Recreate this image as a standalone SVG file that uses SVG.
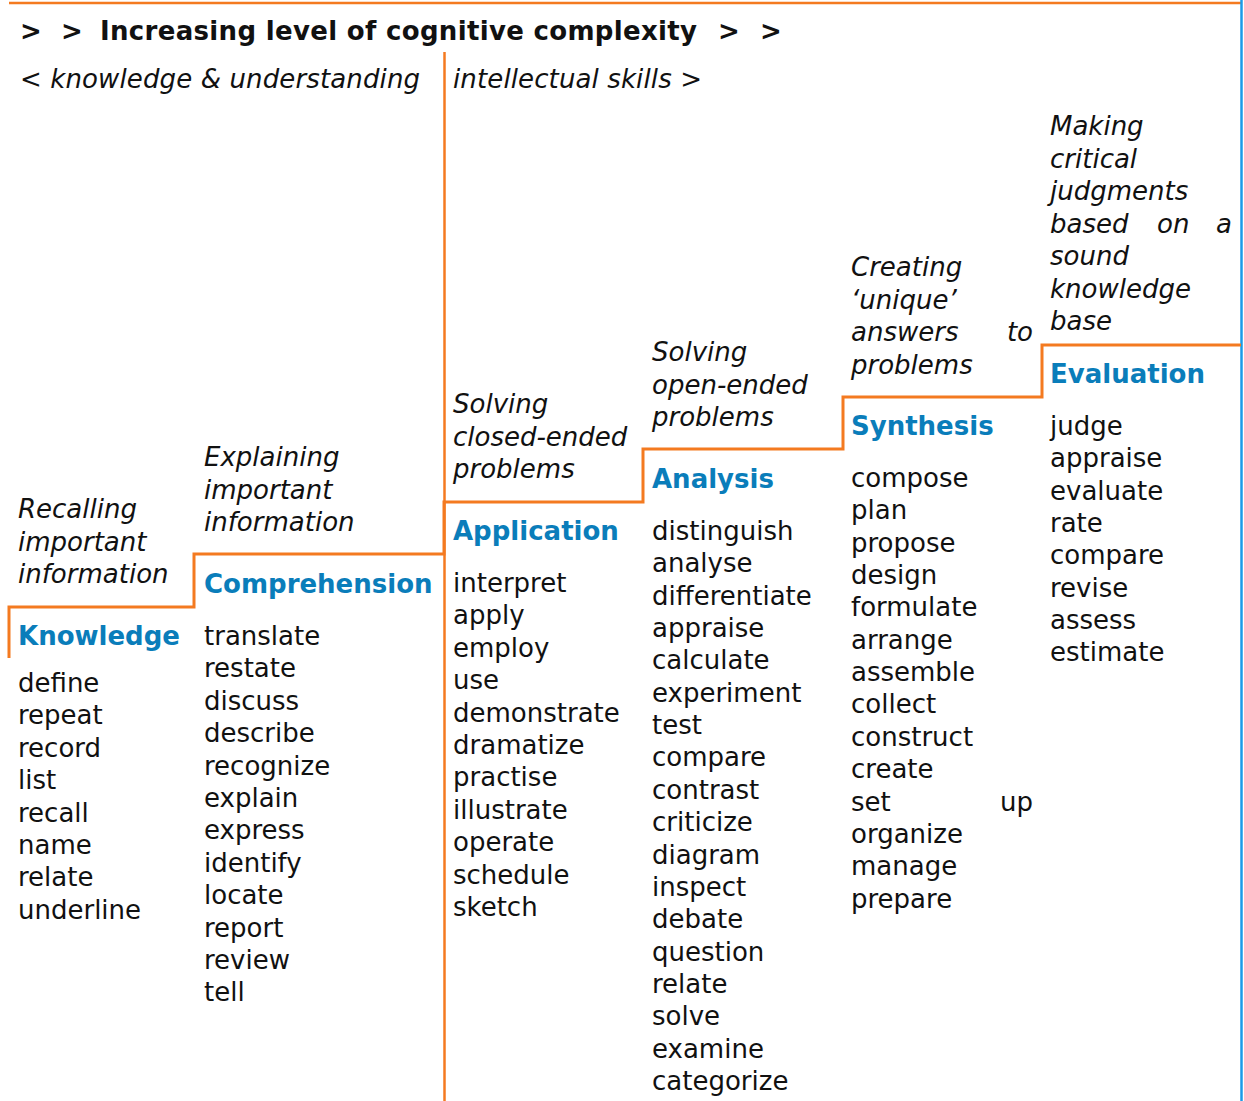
<svg xmlns="http://www.w3.org/2000/svg" width="1244" height="1101" viewBox="0 0 1244 1101">
<style>
text{font-family:"DejaVu Sans","Liberation Sans",sans-serif;font-size:26px;fill:#111}
.i{font-style:italic}
.b{font-weight:bold}
.h{font-weight:bold;fill:#0A7DBA}
.o{fill:none;stroke:#F47A20;stroke-width:3}
</style>
<rect width="1244" height="1101" fill="#fff"/>
<g id="frame">
<line x1="9" y1="3" x2="1241" y2="3" stroke="#F47A20" stroke-width="2.5"/>
<line x1="1241.5" y1="0" x2="1241.5" y2="1101" stroke="#1A9BE8" stroke-width="2.5"/>
<line x1="444.5" y1="52" x2="444.5" y2="1101" stroke="#F47A20" stroke-width="2.5"/>
<path class="o" d="M9,658 V607 H194 V554 H444 V502 H643 V449 H843 V397 H1042 V345 H1241"/>
</g>
<g id="title">
<text class="b" x="20" y="40">&gt;</text>
<text class="b" x="61" y="40">&gt;</text>
<text class="b" x="100" y="40" textLength="597" lengthAdjust="spacing">Increasing level of cognitive complexity</text>
<text class="b" x="718" y="40">&gt;</text>
<text class="b" x="760" y="40">&gt;</text>
<text class="i" x="20" y="88" textLength="400" lengthAdjust="spacing">&lt; knowledge &amp; understanding</text>
<text class="i" x="453" y="88" textLength="249" lengthAdjust="spacing">intellectual skills &gt;</text>
</g>
<g id="knowledge">
<text class="i" x="18" y="518">Recalling</text>
<text class="i" x="18" y="550.5">important</text>
<text class="i" x="18" y="583">information</text>
<text class="h" x="18" y="645">Knowledge</text>
<text x="18" y="692">define</text>
<text x="18" y="724.4">repeat</text>
<text x="18" y="756.8">record</text>
<text x="18" y="789.2">list</text>
<text x="18" y="821.6">recall</text>
<text x="18" y="854">name</text>
<text x="18" y="886.4">relate</text>
<text x="18" y="918.8">underline</text>
</g>
<g id="comprehension">
<text class="i" x="204" y="466">Explaining</text>
<text class="i" x="204" y="498.5">important</text>
<text class="i" x="204" y="531">information</text>
<text class="h" x="204" y="593">Comprehension</text>
<text x="204" y="645">translate</text>
<text x="204" y="677.4">restate</text>
<text x="204" y="709.8">discuss</text>
<text x="204" y="742.2">describe</text>
<text x="204" y="774.6">recognize</text>
<text x="204" y="807">explain</text>
<text x="204" y="839.4">express</text>
<text x="204" y="871.8">identify</text>
<text x="204" y="904.2">locate</text>
<text x="204" y="936.6">report</text>
<text x="204" y="969">review</text>
<text x="204" y="1001.4">tell</text>
</g>
<g id="application">
<text class="i" x="453" y="413">Solving</text>
<text class="i" x="453" y="445.5">closed-ended</text>
<text class="i" x="453" y="478">problems</text>
<text class="h" x="453" y="540">Application</text>
<text x="453" y="592">interpret</text>
<text x="453" y="624.4">apply</text>
<text x="453" y="656.8">employ</text>
<text x="453" y="689.2">use</text>
<text x="453" y="721.6">demonstrate</text>
<text x="453" y="754">dramatize</text>
<text x="453" y="786.4">practise</text>
<text x="453" y="818.8">illustrate</text>
<text x="453" y="851.2">operate</text>
<text x="453" y="883.6">schedule</text>
<text x="453" y="916">sketch</text>
</g>
<g id="analysis">
<text class="i" x="652" y="361">Solving</text>
<text class="i" x="652" y="393.5">open-ended</text>
<text class="i" x="652" y="426">problems</text>
<text class="h" x="652" y="488">Analysis</text>
<text x="652" y="540">distinguish</text>
<text x="652" y="572.35">analyse</text>
<text x="652" y="604.7">differentiate</text>
<text x="652" y="637.05">appraise</text>
<text x="652" y="669.4">calculate</text>
<text x="652" y="701.75">experiment</text>
<text x="652" y="734.1">test</text>
<text x="652" y="766.45">compare</text>
<text x="652" y="798.8">contrast</text>
<text x="652" y="831.15">criticize</text>
<text x="652" y="863.5">diagram</text>
<text x="652" y="895.85">inspect</text>
<text x="652" y="928.2">debate</text>
<text x="652" y="960.55">question</text>
<text x="652" y="992.9">relate</text>
<text x="652" y="1025.25">solve</text>
<text x="652" y="1057.6">examine</text>
<text x="652" y="1089.95">categorize</text>
</g>
<g id="synthesis">
<text class="i" x="851" y="276">Creating</text>
<text class="i" x="851" y="308.5">‘unique’</text>
<text class="i" x="851" y="341">answers</text>
<text class="i" x="1033" y="341" text-anchor="end">to</text>
<text class="i" x="851" y="373.5">problems</text>
<text class="h" x="851" y="435">Synthesis</text>
<text x="851" y="487">compose</text>
<text x="851" y="519.35">plan</text>
<text x="851" y="551.7">propose</text>
<text x="851" y="584.05">design</text>
<text x="851" y="616.4">formulate</text>
<text x="851" y="648.75">arrange</text>
<text x="851" y="681.1">assemble</text>
<text x="851" y="713.45">collect</text>
<text x="851" y="745.8">construct</text>
<text x="851" y="778.15">create</text>
<text x="851" y="810.5">set</text>
<text x="1033" y="810.5" text-anchor="end">up</text>
<text x="851" y="842.85">organize</text>
<text x="851" y="875.2">manage</text>
<text x="851" y="907.55">prepare</text>
</g>
<g id="evaluation">
<text class="i" x="1050" y="135">Making</text>
<text class="i" x="1050" y="167.5">critical</text>
<text class="i" x="1050" y="200">judgments</text>
<text class="i" x="1050" y="232.5">based</text>
<text class="i" x="1157" y="232.5">on</text>
<text class="i" x="1232" y="232.5" text-anchor="end">a</text>
<text class="i" x="1050" y="265">sound</text>
<text class="i" x="1050" y="297.5">knowledge</text>
<text class="i" x="1050" y="330">base</text>
<text class="h" x="1050" y="383">Evaluation</text>
<text x="1050" y="435">judge</text>
<text x="1050" y="467.35">appraise</text>
<text x="1050" y="499.7">evaluate</text>
<text x="1050" y="532.05">rate</text>
<text x="1050" y="564.4">compare</text>
<text x="1050" y="596.75">revise</text>
<text x="1050" y="629.1">assess</text>
<text x="1050" y="661.45">estimate</text>
</g>
</svg>
